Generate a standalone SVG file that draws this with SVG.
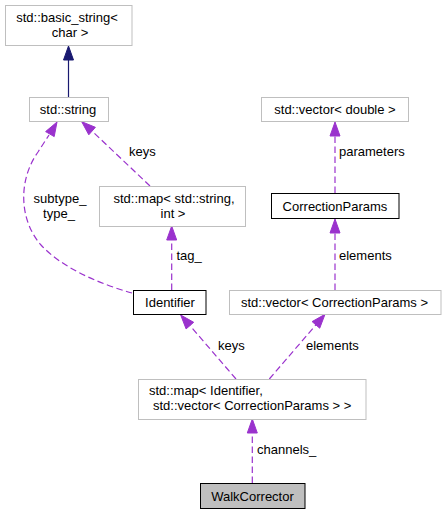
<svg xmlns="http://www.w3.org/2000/svg" width="447" height="515" viewBox="0 0 447 515">
<style>
text{font-family:"Liberation Sans",Arial,sans-serif;font-size:13px;fill:#000}
.c{text-anchor:middle}
.n{fill:#fff;stroke:#bfbfbf;stroke-width:1}
.d{fill:#fff;stroke:#000;stroke-width:1}
.e{fill:none;stroke:#9a32cd;stroke-width:1.2;stroke-dasharray:6.5,3.5}
.h{fill:#9a32cd;stroke:#9a32cd;stroke-width:1}
.s{fill:none;stroke:#191970;stroke-width:1.2}
.sh{fill:#191970;stroke:#191970;stroke-width:1}
</style>
<rect width="447" height="515" fill="#fff"/>
<g id="connectors">
<!-- basic_string <- string -->
<path class="s" d="M68.5,97 L68.5,60"/>
<polygon class="sh" points="68.5,46 73.5,60 63.5,60"/>
<!-- string <- Identifier (subtype_, type_) -->
<path class="e" d="M132,293 C100,284 62,268 41,245 C19,220 18,180 38,152 L49,135"/>
<polygon class="h" points="57,122 54.2,136.6 45.6,131.6"/>
<!-- string <- map<string,int> (keys) -->
<path class="e" d="M150,186 L92,131"/>
<polygon class="h" points="81.7,121.7 95.4,127.3 88.8,134.8"/>
<!-- map<string,int> <- Identifier (tag_) -->
<path class="e" d="M171.7,290 L171.7,240"/>
<polygon class="h" points="171.7,226 176.7,240 166.7,240"/>
<!-- vector<double> <- CorrectionParams -->
<path class="e" d="M335,193 L335,136"/>
<polygon class="h" points="335,122 340,136 330,136"/>
<!-- CorrectionParams <- vector<CP> -->
<path class="e" d="M335,290 L335,233"/>
<polygon class="h" points="335,219 340,233 330,233"/>
<!-- Identifier <- map (keys) -->
<path class="e" d="M236,379 L190,325.6"/>
<polygon class="h" points="180.7,315 193.7,322.3 186.1,328.9"/>
<!-- vector<CP> <- map (elements) -->
<path class="e" d="M269.3,379 L315.9,324.9"/>
<polygon class="h" points="325,314.3 319.7,328.2 312.1,321.6"/>
<!-- map <- WalkCorrector (channels_) -->
<path class="e" d="M252.3,483 L252.3,433"/>
<polygon class="h" points="252.3,419 257.3,433 247.3,433"/>
<text x="60" y="203" class="c">subtype_</text>
<text x="59" y="218" class="c">type_</text>
<text x="129" y="156">keys</text>
<text x="176.5" y="260">tag_</text>
<text x="339" y="156">parameters</text>
<text x="339" y="260">elements</text>
<text x="218" y="350">keys</text>
<text x="306" y="350">elements</text>
<text x="257" y="454">channels_</text>
</g>
<g id="node-basic-string">
<rect class="n" x="5.5" y="5.5" width="126.5" height="40"/>
<text x="67" y="22" class="c">std::basic_string&lt;</text>
<text x="70" y="37" class="c">char &gt;</text>
</g>
<g id="node-string">
<rect class="n" x="29.5" y="97.5" width="79" height="24"/>
<text x="68" y="113.5" class="c">std::string</text>
</g>
<g id="node-map-string-int">
<rect class="n" x="99.5" y="186.5" width="146" height="40"/>
<text x="174" y="203" class="c">std::map&lt; std::string,</text>
<text x="173" y="218" class="c">int &gt;</text>
</g>
<g id="node-identifier">
<rect class="d" x="133.5" y="290.5" width="72.5" height="24"/>
<text x="170" y="306.5" class="c">Identifier</text>
</g>
<g id="node-vector-double">
<rect class="n" x="261.5" y="97.5" width="147" height="24"/>
<text x="335" y="114" class="c">std::vector&lt; double &gt;</text>
</g>
<g id="node-correctionparams">
<rect class="d" x="271.5" y="193.5" width="127.5" height="25"/>
<text x="335" y="210.5" class="c">CorrectionParams</text>
</g>
<g id="node-vector-cp">
<rect class="n" x="229.5" y="290.5" width="211.5" height="24"/>
<text x="334.5" y="307" class="c">std::vector&lt; CorrectionParams &gt;</text>
</g>
<g id="node-map-identifier">
<rect class="n" x="138.5" y="379.5" width="227.5" height="40"/>
<text x="149" y="394.5">std::map&lt; Identifier,</text>
<text x="153" y="409.5">std::vector&lt; CorrectionParams &gt; &gt;</text>
</g>
<g id="node-walkcorrector">
<rect x="200.5" y="483.5" width="104.5" height="25" fill="#bfbfbf" stroke="#000" stroke-width="1"/>
<text x="252.5" y="500.5" class="c">WalkCorrector</text>
</g>
</svg>
